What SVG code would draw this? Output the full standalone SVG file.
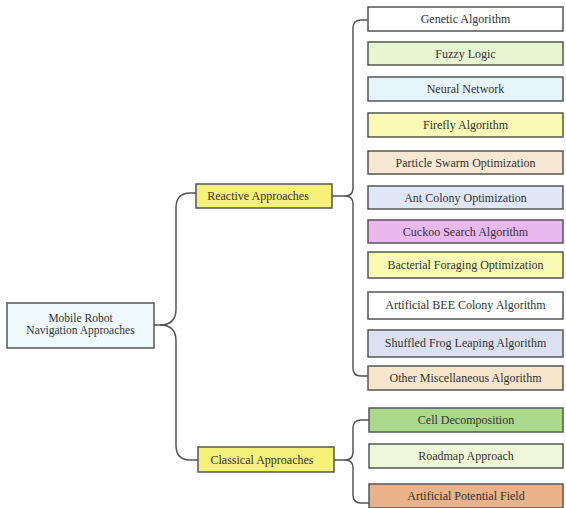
<svg xmlns="http://www.w3.org/2000/svg" width="566" height="508" viewBox="0 0 566 508">
<style>
.n rect{stroke:#555;stroke-width:1.5}
text{font-family:"Liberation Serif","Times New Roman",serif;font-size:12px;fill:#333;text-anchor:middle}
.c path{fill:none;stroke:#555;stroke-width:1.5}
</style>
<rect width="566" height="508" fill="#fff"/>
<g class="c" id="connectors">
<path d="M154,325 H160 Q176,325 176,309 V208 Q176,193 190,193 H196"/>
<path d="M160,325 Q176,325 176,341 V445 Q176,460 190,460 H198"/>
<path d="M332,196 H345 Q353,196 353,188 V28 Q353,20 361,20 H368"/>
<path d="M345,196 Q353,196 353,204 V368 Q353,376 361,376 H368"/>
<path d="M334,460 H345 Q353,460 353,452 V428 Q353,420 361,420 H369"/>
<path d="M345,460 Q353,460 353,468 V495 Q353,503 361,503 H369"/>
</g>
<g class="n" id="root"><rect x="7" y="303" width="147" height="45" fill="#eefafc"/><text x="80.5" y="322" style="font-size:11.5px">Mobile Robot</text><text x="80.5" y="334" style="font-size:11.5px">Navigation Approaches</text></g>
<g class="n" id="reactive"><rect x="196" y="184" width="136" height="24" fill="#f5f07a"/><text x="258" y="200">Reactive Approaches</text></g>
<g class="n" id="classical"><rect x="198" y="447" width="136" height="25" fill="#f5f07a"/><text x="262" y="464">Classical Approaches</text></g>
<g class="n" id="genetic"><rect x="368" y="7" width="195" height="24" fill="#ffffff"/><text x="465.5" y="23">Genetic Algorithm</text></g>
<g class="n" id="fuzzy"><rect x="368" y="42" width="195" height="23" fill="#e8f5d2"/><text x="465.5" y="58">Fuzzy Logic</text></g>
<g class="n" id="neural"><rect x="368" y="77" width="195" height="24" fill="#e6f4fb"/><text x="465.5" y="93">Neural Network</text></g>
<g class="n" id="firefly"><rect x="368" y="113" width="195" height="24" fill="#fafab4"/><text x="465.5" y="129">Firefly Algorithm</text></g>
<g class="n" id="pso"><rect x="368" y="151" width="195" height="23" fill="#f6e8d2"/><text x="465.5" y="167">Particle Swarm Optimization</text></g>
<g class="n" id="aco"><rect x="368" y="186" width="195" height="23" fill="#e0e8f8"/><text x="465.5" y="202">Ant Colony Optimization</text></g>
<g class="n" id="cuckoo"><rect x="368" y="220" width="195" height="23" fill="#e8b8ee"/><text x="465.5" y="236">Cuckoo Search Algorithm</text></g>
<g class="n" id="bfo"><rect x="368" y="252" width="195" height="26" fill="#fafab4"/><text x="465.5" y="269">Bacterial Foraging Optimization</text></g>
<g class="n" id="abc"><rect x="368" y="292" width="195" height="27" fill="#ffffff"/><text x="465.5" y="309">Artificial BEE Colony Algorithm</text></g>
<g class="n" id="sfla"><rect x="368" y="330" width="195" height="27" fill="#dbe1f0"/><text x="465.5" y="347">Shuffled Frog Leaping Algorithm</text></g>
<g class="n" id="misc"><rect x="368" y="366" width="195" height="24" fill="#f8e6cc"/><text x="465.5" y="382">Other Miscellaneous Algorithm</text></g>
<g class="n" id="cell"><rect x="369" y="408" width="194" height="24" fill="#abd98c"/><text x="466" y="424">Cell Decomposition</text></g>
<g class="n" id="roadmap"><rect x="369" y="444" width="194" height="24" fill="#eef8d8"/><text x="466" y="460">Roadmap Approach</text></g>
<g class="n" id="apf"><rect x="369" y="484" width="194" height="24" fill="#e9b28a"/><text x="466" y="500">Artificial Potential Field</text></g>
</svg>
